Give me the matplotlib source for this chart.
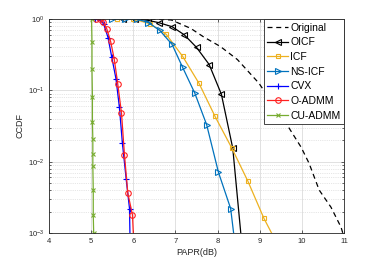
import numpy as np
import matplotlib.pyplot as plt

# PAPR (dB) / CCDF pairs
orig_x = [6.2, 6.5, 6.9, 7.36, 7.67, 8.07, 8.47, 8.98, 9.58, 9.98, 10.17, 10.41, 10.69, 10.93, 10.97]
orig_y = [1.0, 0.995, 0.97, 0.74, 0.56, 0.41, 0.27, 0.126, 0.038, 0.016, 0.0095, 0.004, 0.0023, 0.0012, 0.001]

oicf_x = [5.75, 6.05, 6.34, 6.6, 6.92, 7.21, 7.5, 7.8, 8.09, 8.36, 8.55]
oicf_y = [1.0, 1.0, 0.96, 0.89, 0.78, 0.60, 0.40, 0.23, 0.088, 0.0154, 0.001]

icf_x = [5.61, 6.0, 6.39, 6.78, 7.17, 7.56, 7.94, 8.34, 8.72, 9.10, 9.28]
icf_y = [1.0, 1.0, 0.86, 0.61, 0.30, 0.125, 0.043, 0.0154, 0.0053, 0.0016, 0.001]

nsicf_x = [5.5, 5.8, 6.08, 6.36, 6.63, 6.92, 7.17, 7.46, 7.74, 8.02, 8.31, 8.38]
nsicf_y = [1.0, 1.0, 1.0, 0.89, 0.69, 0.44, 0.21, 0.091, 0.033, 0.0071, 0.0022, 0.001]

cvx_x = [5.08, 5.2, 5.3, 5.4, 5.49, 5.59, 5.67, 5.74, 5.83, 5.91, 5.92]
cvx_y = [1.0, 0.98, 0.85, 0.55, 0.29, 0.144, 0.058, 0.0185, 0.0058, 0.0022, 0.001]

oadmm_x = [5.11, 5.2, 5.29, 5.37, 5.46, 5.55, 5.63, 5.72, 5.79, 5.87, 5.98, 6.0]
oadmm_y = [1.0, 1.0, 0.91, 0.73, 0.49, 0.27, 0.124, 0.048, 0.0126, 0.0036, 0.0018, 0.001]

cuadmm_x = [5.01, 5.02, 5.02, 5.03, 5.03, 5.04, 5.04, 5.04, 5.05, 5.05, 5.06]
cuadmm_y = [1.0, 0.48, 0.20, 0.081, 0.036, 0.021, 0.013, 0.0087, 0.004, 0.0018, 0.001]

plt.rcParams['font.family'] = ['Liberation Sans', 'DejaVu Sans']

fig = plt.figure(figsize=(3.81, 2.62), dpi=100)
ax = fig.add_axes([0.1286, 0.1107, 0.7744, 0.8168])

ax.plot(orig_x, orig_y, '--', color='black', lw=0.9, dashes=(4, 3), label='Original')
ax.plot(oicf_x, oicf_y, '-', color='black', lw=0.9, marker='<', ms=4, mfc='none', mew=0.8,
        markevery=list(range(len(oicf_x) - 1)), label='OICF')
ax.plot(icf_x, icf_y, '-', color='#EDB120', lw=0.9, marker='s', ms=3.5, mfc='none', mew=0.8,
        markevery=list(range(len(icf_x) - 1)), label='ICF')
ax.plot(nsicf_x, nsicf_y, '-', color='#0072BD', lw=0.9, marker='>', ms=4, mfc='none', mew=0.8,
        markevery=list(range(len(nsicf_x) - 1)), label='NS-ICF')
ax.plot(cvx_x, cvx_y, '-', color='blue', lw=0.9, marker='+', ms=4, mew=0.8,
        markevery=list(range(len(cvx_x) - 1)), label='CVX')
ax.plot(oadmm_x, oadmm_y, '-', color='#FF2020', lw=0.9, marker='o', ms=4, mfc='none', mew=0.8,
        markevery=list(range(len(oadmm_x) - 1)), label='O-ADMM')
ax.plot(cuadmm_x, cuadmm_y, '-', color='#77AC30', lw=0.9, marker='x', ms=2.5, mew=0.8,
        label='CU-ADMM')

ax.set_yscale('log')
ax.set_xlim(4, 11)
ax.set_ylim(1e-3, 1)
ax.set_xticks(range(4, 12))
ax.set_xlabel('PAPR(dB)', fontsize=6.5, color='#262626', labelpad=2)
ax.set_ylabel('CCDF', fontsize=6.5, color='#262626', labelpad=2)

ax.grid(True, which='major', color='#dcdcdc', lw=0.6)
ax.grid(True, which='minor', axis='y', color='#cfcfcf', lw=0.5, ls=':')
ax.tick_params(which='both', direction='in', top=True, right=True, labelsize=5.5,
               colors='#262626', length=2.5, width=0.5)
ax.tick_params(which='minor', length=1.5)
for s in ax.spines.values():
    s.set_color('#262626')
    s.set_linewidth(0.6)

leg = ax.legend(loc='upper right', fontsize=7.5, handlelength=2.0, handletextpad=0.2,
                labelspacing=0.45, borderpad=0.35, borderaxespad=0, fancybox=False,
                framealpha=1, edgecolor='#262626')
leg.get_frame().set_linewidth(0.6)

fig.savefig('out.png', dpi=100)
